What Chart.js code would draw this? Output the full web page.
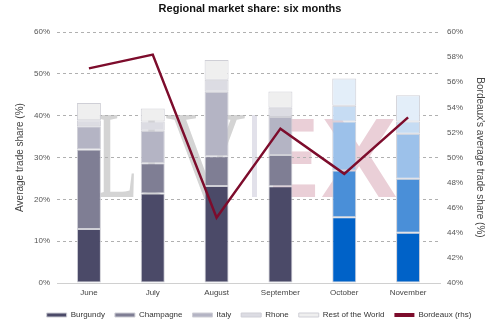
<!DOCTYPE html>
<html>
<head>
<meta charset="utf-8">
<script src="https://cdn.jsdelivr.net/npm/chart.js@4"></script>
<style>
  html, body { margin: 0; padding: 0; background: #ffffff; }
  #wrap { width: 500px; height: 326px; }
</style>
</head>
<body>
<div id="wrap"><canvas id="chart" width="500" height="326"></canvas></div>
<script>
// Months on the category axis
const months = ['June', 'July', 'August', 'September', 'October', 'November'];

// Regional share of trade, % (left axis, stacked)
const burgundy    = [12.9, 21.4, 23.2, 23.1, 15.7, 12.0];
const champagne   = [19.0,  7.2,  7.1,  7.5, 11.2, 12.9];
const italy       = [ 5.6,  7.8, 15.4,  9.1, 11.7, 10.8];
const rhone       = [ 1.4,  2.2,  2.9,  2.2,  3.8,  2.9];
const restOfWorld = [ 4.1,  3.1,  4.7,  3.9,  6.5,  6.3];

// Bordeaux share of trade, % (right axis)
const bordeaux = [57.1, 58.2, 45.2, 52.3, 48.7, 53.2];

// Axis ranges and ticks
const leftTicks  = { min: 0,  max: 60, step: 10 };
const rightTicks = { min: 40, max: 60, step: 2 };

// Palettes: greys for the first months, blues for the latest two
const greyPalette = ['#4b4a68', '#7f7e94', '#b4b4c4', '#dcdce3', '#efefef'];
const bluePalette = ['#0062c8', '#4a8fd8', '#9cc1ea', '#c6dcf3', '#e3eef9'];
const highlightFrom = 4;

function barColour(seriesIdx) {
  return ctx => (ctx.dataIndex !== undefined && ctx.dataIndex >= highlightFrom)
    ? bluePalette[seriesIdx] : greyPalette[seriesIdx];
}

const barSeries = [
  ['Burgundy', burgundy],
  ['Champagne', champagne],
  ['Italy', italy],
  ['Rhone', rhone],
  ['Rest of the World', restOfWorld]
];

const datasets = barSeries.map(([label, data], i) => ({
  type: 'bar',
  label,
  data,
  yAxisID: 'y',
  stack: 'regions',
  order: 1,
  backgroundColor: barColour(i),
  borderColor: '#cfcfd6',
  borderWidth: 1,
  borderSkipped: false,
  categoryPercentage: 1,
  barPercentage: 0.376
}));

datasets.push({
  type: 'line',
  label: 'Bordeaux (rhs)',
  data: bordeaux,
  yAxisID: 'y1',
  order: 0,
  borderColor: '#7d0c2c',
  backgroundColor: '#7d0c2c',
  borderWidth: 2.5,
  pointRadius: 0,
  tension: 0,
  fill: false
});

// Squeeze a word horizontally into [left, right] on a given baseline
function fitText(ctx, text, font, colour, left, right, baseline) {
  ctx.save();
  ctx.font = font;
  ctx.fillStyle = colour;
  ctx.textBaseline = 'alphabetic';
  ctx.textAlign = 'left';
  const w = ctx.measureText(text).width;
  ctx.translate(left, baseline);
  ctx.scale((right - left) / w, 1);
  ctx.fillText(text, 0, 0);
  ctx.restore();
}

// Faint brand mark behind the plot
const watermark = {
  id: 'watermark',
  beforeDraw(chart) {
    const ctx = chart.ctx;
    const base = 197;
    const serif = '124px "Liberation Serif"';
    const sans = 'bold 114px "Liberation Sans"';
    fitText(ctx, 'L', serif, '#d4d4d4', 96, 138, base);
    fitText(ctx, 'I', serif, '#d4d4d4', 140, 163, base);
    fitText(ctx, 'V', serif, '#d4d4d4', 165, 246, base);
    ctx.save();
    ctx.fillStyle = '#e2e1ea';
    ctx.fillRect(252, 115, 5, 82);
    ctx.restore();
    fitText(ctx, 'E', sans, '#eacfd7', 268, 318, base);
    fitText(ctx, 'X', sans, '#eacfd7', 321, 397, base);
  }
};

// Nudge the legend row to sit under the plot's visual centre
const legendShift = {
  id: 'legendShift',
  afterLayout(chart) {
    const lg = chart.legend;
    if (lg) { lg.left += 9; lg.right += 9; }
  }
};

const tickFont = { family: '"Liberation Sans", Arial, sans-serif', size: 8 };
const titleFont = { family: '"Liberation Sans", Arial, sans-serif', size: 10 };

new Chart(document.getElementById('chart'), {
  data: { labels: months, datasets },
  plugins: [watermark, legendShift],
  options: {
    responsive: false,
    animation: false,
    layout: { padding: { left: 0, right: 0, top: 0, bottom: -3 } },
    plugins: {
      title: {
        display: true,
        text: 'Regional market share: six months',
        color: '#111111',
        font: { family: '"Liberation Sans", Arial, sans-serif', size: 11, weight: 'bold' },
        padding: { top: 2, bottom: 16.8 }
      },
      legend: {
        position: 'bottom',
        labels: {
          boxWidth: 20,
          boxHeight: 4,
          padding: 10,
          color: '#333333',
          font: tickFont,
          sort: (a, b) => a.datasetIndex - b.datasetIndex,
          generateLabels(chart) {
            const items = Chart.defaults.plugins.legend.labels.generateLabels(chart);
            items.forEach(it => {
              const ds = chart.data.datasets[it.datasetIndex];
              if (ds.type === 'line') {
                it.lineWidth = 0;
                it.fillStyle = ds.borderColor;
                it.strokeStyle = ds.borderColor;
              } else {
                it.lineWidth = 1;
                it.strokeStyle = '#cfcfd6';
              }
            });
            return items;
          }
        }
      },
      tooltip: { enabled: false }
    },
    scales: {
      x: {
        stacked: true,
        grid: { display: false, drawTicks: false },
        border: { display: true, color: '#d0d0d0', width: 1 },
        ticks: { color: '#444444', font: tickFont, padding: 5, maxRotation: 0 },
        afterFit(scale) { scale.height = 18; }
      },
      y: {
        position: 'left',
        stacked: true,
        min: leftTicks.min,
        max: leftTicks.max,
        grid: { color: '#b0b0b0', lineWidth: 1, drawTicks: false },
        border: { display: false, dash: [3, 3] },
        ticks: {
          stepSize: leftTicks.step,
          color: '#555555',
          font: tickFont,
          padding: 7,
          callback: v => v + '%'
        },
        title: {
          display: true,
          text: 'Average trade share (%)',
          color: '#444444',
          font: titleFont,
          padding: { top: 14, bottom: 0 }
        },
        afterFit(scale) { scale.width = 57; }
      },
      y1: {
        position: 'right',
        min: rightTicks.min,
        max: rightTicks.max,
        grid: { display: false, drawTicks: false },
        border: { display: false },
        ticks: {
          stepSize: rightTicks.step,
          color: '#555555',
          font: tickFont,
          padding: 7,
          callback: v => v + '%'
        },
        title: {
          display: true,
          text: "Bordeaux's average trade share (%)",
          color: '#444444',
          font: titleFont,
          padding: { top: 14, bottom: 0 }
        },
        afterFit(scale) { scale.width = 60; }
      }
    }
  }
});
</script>
</body>
</html>
